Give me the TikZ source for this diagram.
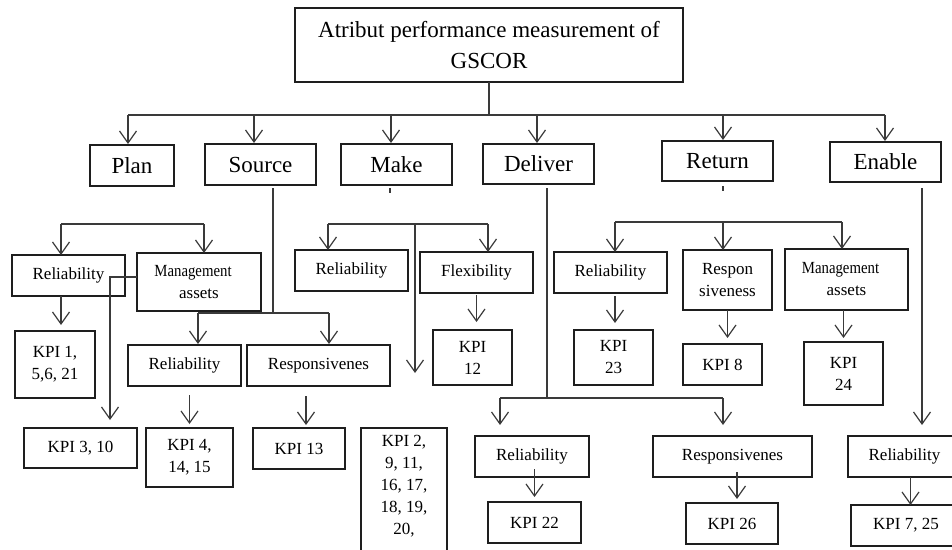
\documentclass[tikz,border=0pt]{standalone}
\usepackage{fontspec}
\setmainfont{Liberation Serif}
\usetikzlibrary{arrows.meta,calc}
\definecolor{ink}{HTML}{1E1E1E}
\definecolor{wirecol}{HTML}{3A3A3A}
\newcommand\bigtxt{\fontsize{23}{31}\selectfont}
\newcommand\smalltxt{\fontsize{17}{22}\selectfont}
\newcommand\mgmt{\hspace*{-12pt}\scalebox{0.87}[1]{Management}}
% \bx[options]{name}{x1}{y1}{x2}{y2}{text}: box from top-left to bottom-right corner
\newcommand\bx[7][]{\node[box,#1,minimum width={#5-#3},minimum height={#6-#4}] (#2) at (#3,#4) {#7};}
\tikzset{
  box/.style={draw=ink, line width=1.3pt, inner sep=0pt, outer sep=0pt,
    anchor=north west, align=center, font=\smalltxt},
  big/.style={font=\bigtxt},
  wire/.style={draw=wirecol, line width=1.4pt},
  arr/.style={wire, -{Straight Barb[length=12pt,width=17pt,line width=1.2pt]}},
}
\begin{document}
\begin{tikzpicture}[x=1pt,y=-1pt]
\useasboundingbox (0,0) rectangle (952,549);
\clip (0,0) rectangle (952,549);

% ---------- boxes ----------
\bx[big]{title}{295}{8}{683}{82}{Atribut performance measurement of\\GSCOR}
\bx[big]{plan}{90}{145}{174}{186}{Plan}
\bx[big]{source}{205}{144}{316}{185}{Source}
\bx[big]{make}{341}{144}{452}{185}{Make}
\bx[big]{deliver}{483}{144}{594}{184}{Deliver}
\bx[big]{return}{662}{141}{773}{181}{Return}
\bx[big]{enable}{830}{142}{941}{182}{Enable}

% Plan
\bx{pRel}{12}{255}{125}{296}{Reliability}
\bx{pMan}{137}{253}{261}{311}{\mgmt\\assets}
\bx{pK1}{15}{331}{95}{398}{KPI 1,\\5,6, 21}
\bx{pK3}{24}{428}{137}{468}{KPI 3, 10}
% Source
\bx{sRel}{128}{345}{241}{386}{Reliability}
\bx{sRes}{247}{345}{390}{386}{Responsivenes}
\bx{sK4}{146}{428}{233}{487}{KPI 4,\\14, 15}
\bx{sK13}{253}{428}{345}{469}{KPI 13}
% Make
\bx{mRel}{295}{250}{408}{291}{Reliability}
\bx{mFlex}{420}{252}{533}{293}{Flexibility}
\bx{mK12}{433}{330}{512}{385}{KPI\\12}
\node[box] (mK2) at (361,428)
  {\parbox[b][132pt][t]{86pt}{\centering\rule{0pt}{18pt}KPI 2,\\9, 11,\\16, 17,\\18, 19,\\20,}};
% Deliver
\bx{dRel}{475}{436}{589}{477}{Reliability}
\bx{dRes}{653}{436}{812}{477}{Responsivenes}
\bx{dK22}{488}{502}{581}{543}{KPI 22}
\bx{dK26}{686}{503}{778}{544}{KPI 26}
% Return
\bx{rRel}{554}{252}{667}{293}{Reliability}
\bx{rRes}{683}{250}{772}{310}{Respon\\siveness}
\bx{rMan}{785}{249}{908}{310}{\mgmt\\assets}
\bx{rK23}{574}{330}{653}{385}{KPI\\23}
\bx{rK8}{683}{344}{762}{385}{KPI 8}
\bx{rK24}{804}{342}{883}{405}{KPI\\24}
% Enable
\bx{eRel}{848}{436}{961}{477}{Reliability}
\bx{eK725}{851}{505}{961}{546}{KPI 7, 25}

% ---------- top level ----------
\coordinate (bus) at (489,115);
\draw[wire] (title.south) -- (bus);
\draw[wire] ([xshift=-4]plan.north |- bus) -- ([xshift=-0.5]enable.north |- bus);
\draw[arr, shorten >=1pt] ([xshift=-4]plan.north |- bus) -- ([xshift=-4]plan.north);
\draw[arr, shorten >=1pt] ([xshift=-6.5]source.north |- bus) -- ([xshift=-6.5]source.north);
\draw[arr, shorten >=1pt] ([xshift=-5.5]make.north |- bus) -- ([xshift=-5.5]make.north);
\draw[arr, shorten >=1pt] ([xshift=-1.5]deliver.north |- bus) -- ([xshift=-1.5]deliver.north);
\draw[arr, shorten >=1pt] ([xshift=5.5]return.north |- bus) -- ([xshift=5.5]return.north);
\draw[arr, shorten >=1pt] ([xshift=-0.5]enable.north |- bus) -- ([xshift=-0.5]enable.north);

% ---------- Plan ----------
\coordinate (pbus) at (0,224);
\draw[wire] ([xshift=-7.5]pRel.north |- pbus) -- ([xshift=5]pMan.north |- pbus);
\draw[arr] ([xshift=-7.5]pRel.north |- pbus) -- ([xshift=-7.5]pRel.north);
\draw[arr] ([xshift=5]pMan.north |- pbus) -- ([xshift=5]pMan.north);
\draw[arr, shorten >=6pt] ([xshift=-7.5]pRel.south) -- ([xshift=-7.5]pRel.south |- pK1.north);
\draw[arr] ([yshift=5]pMan.west) -| ([xshift=29.5,yshift=8]pK3.north);

% ---------- Source ----------
\coordinate (sbus) at (0,313);
\draw[wire, shorten <=3pt] ([xshift=12.5]source.south) -- ([xshift=12.5]source.south |- sbus);
\draw[wire] ([xshift=13.5]sRel.north |- sbus) -- ([xshift=10.5]sRes.north |- sbus);
\draw[arr, shorten >=1pt] ([xshift=13.5]sRel.north |- sbus) -- ([xshift=13.5]sRel.north);
\draw[arr, shorten >=1pt] ([xshift=10.5]sRes.north |- sbus) -- ([xshift=10.5]sRes.north);
\draw[arr, shorten <=9pt, shorten >=4pt] (sK4.north |- sRel.south) -- (sK4.north);
\draw[arr, shorten <=10pt, shorten >=3pt] ([xshift=-12.5]sRes.south) -- ([xshift=-12.5]sRes.south |- sK13.north);

% ---------- Make ----------
\draw[wire] ([xshift=-6.5,yshift=-3]make.south) -- ++(0,5);
\coordinate (mbus) at (0,224);
\coordinate (mend) at (415,373);
\draw[wire] ([xshift=-23.5]mRel.north |- mbus) -- ([xshift=11.5]mFlex.north |- mbus);
\draw[arr] ([xshift=-23.5]mRel.north |- mbus) -- ([xshift=-23.5]mRel.north);
\draw[arr] ([xshift=11.5]mFlex.north |- mbus) -- ([xshift=11.5]mFlex.north);
\draw[arr] (mend |- mbus) -- (mend);
\draw[arr, shorten <=2pt, shorten >=8pt] (mFlex.south) -- (mFlex.south |- mK12.north);

% ---------- Deliver ----------
\coordinate (dbus) at (0,398);
\draw[wire, shorten <=4pt] ([xshift=8.5]deliver.south) -- ([xshift=8.5]deliver.south |- dbus);
\draw[wire] ([xshift=-32]dRel.north |- dbus) -- ([xshift=-9.5]dRes.north |- dbus);
\draw[arr, shorten >=11pt] ([xshift=-32]dRel.north |- dbus) -- ([xshift=-32]dRel.north);
\draw[arr, shorten >=11pt] ([xshift=-9.5]dRes.north |- dbus) -- ([xshift=-9.5]dRes.north);
\draw[arr, shorten <=-8pt, shorten >=5pt] (dK22.north |- dRel.south) -- (dK22.north);
\draw[arr, shorten <=-5pt, shorten >=4pt] ([xshift=4.5]dRes.south) -- ([xshift=4.5]dRes.south |- dK26.north);

% ---------- Return ----------
\draw[wire] ([xshift=5.5,yshift=-5]return.south) -- ++(0,5);
\coordinate (rbus) at (0,222);
\draw[wire] ([xshift=4.5]rRel.north |- rbus) -- ([xshift=-4.5]rMan.north |- rbus);
\draw[arr] ([xshift=4.5]rRel.north |- rbus) -- ([xshift=4.5]rRel.north);
\draw[arr] ([xshift=-4.5]rRes.north |- rbus) -- ([xshift=-4.5]rRes.north);
\draw[arr] ([xshift=-4.5]rMan.north |- rbus) -- ([xshift=-4.5]rMan.north);
\draw[arr, shorten <=3pt, shorten >=7pt] ([xshift=4.5]rRel.south) -- ([xshift=4.5]rRel.south |- rK23.north);
\draw[arr, shorten >=6pt] (rRes.south) -- (rRes.south |- rK8.north);
\draw[arr, shorten >=4pt] (rK24.north |- rMan.south) -- (rK24.north);

% ---------- Enable ----------
\draw[arr, shorten <=6pt, shorten >=11pt] ([xshift=36.5]enable.south) -- ([xshift=36.5]enable.south |- eRel.north);
\draw[arr] ([xshift=6]eRel.south) -- ([xshift=6]eRel.south |- eK725.north);
\end{tikzpicture}
\end{document}
